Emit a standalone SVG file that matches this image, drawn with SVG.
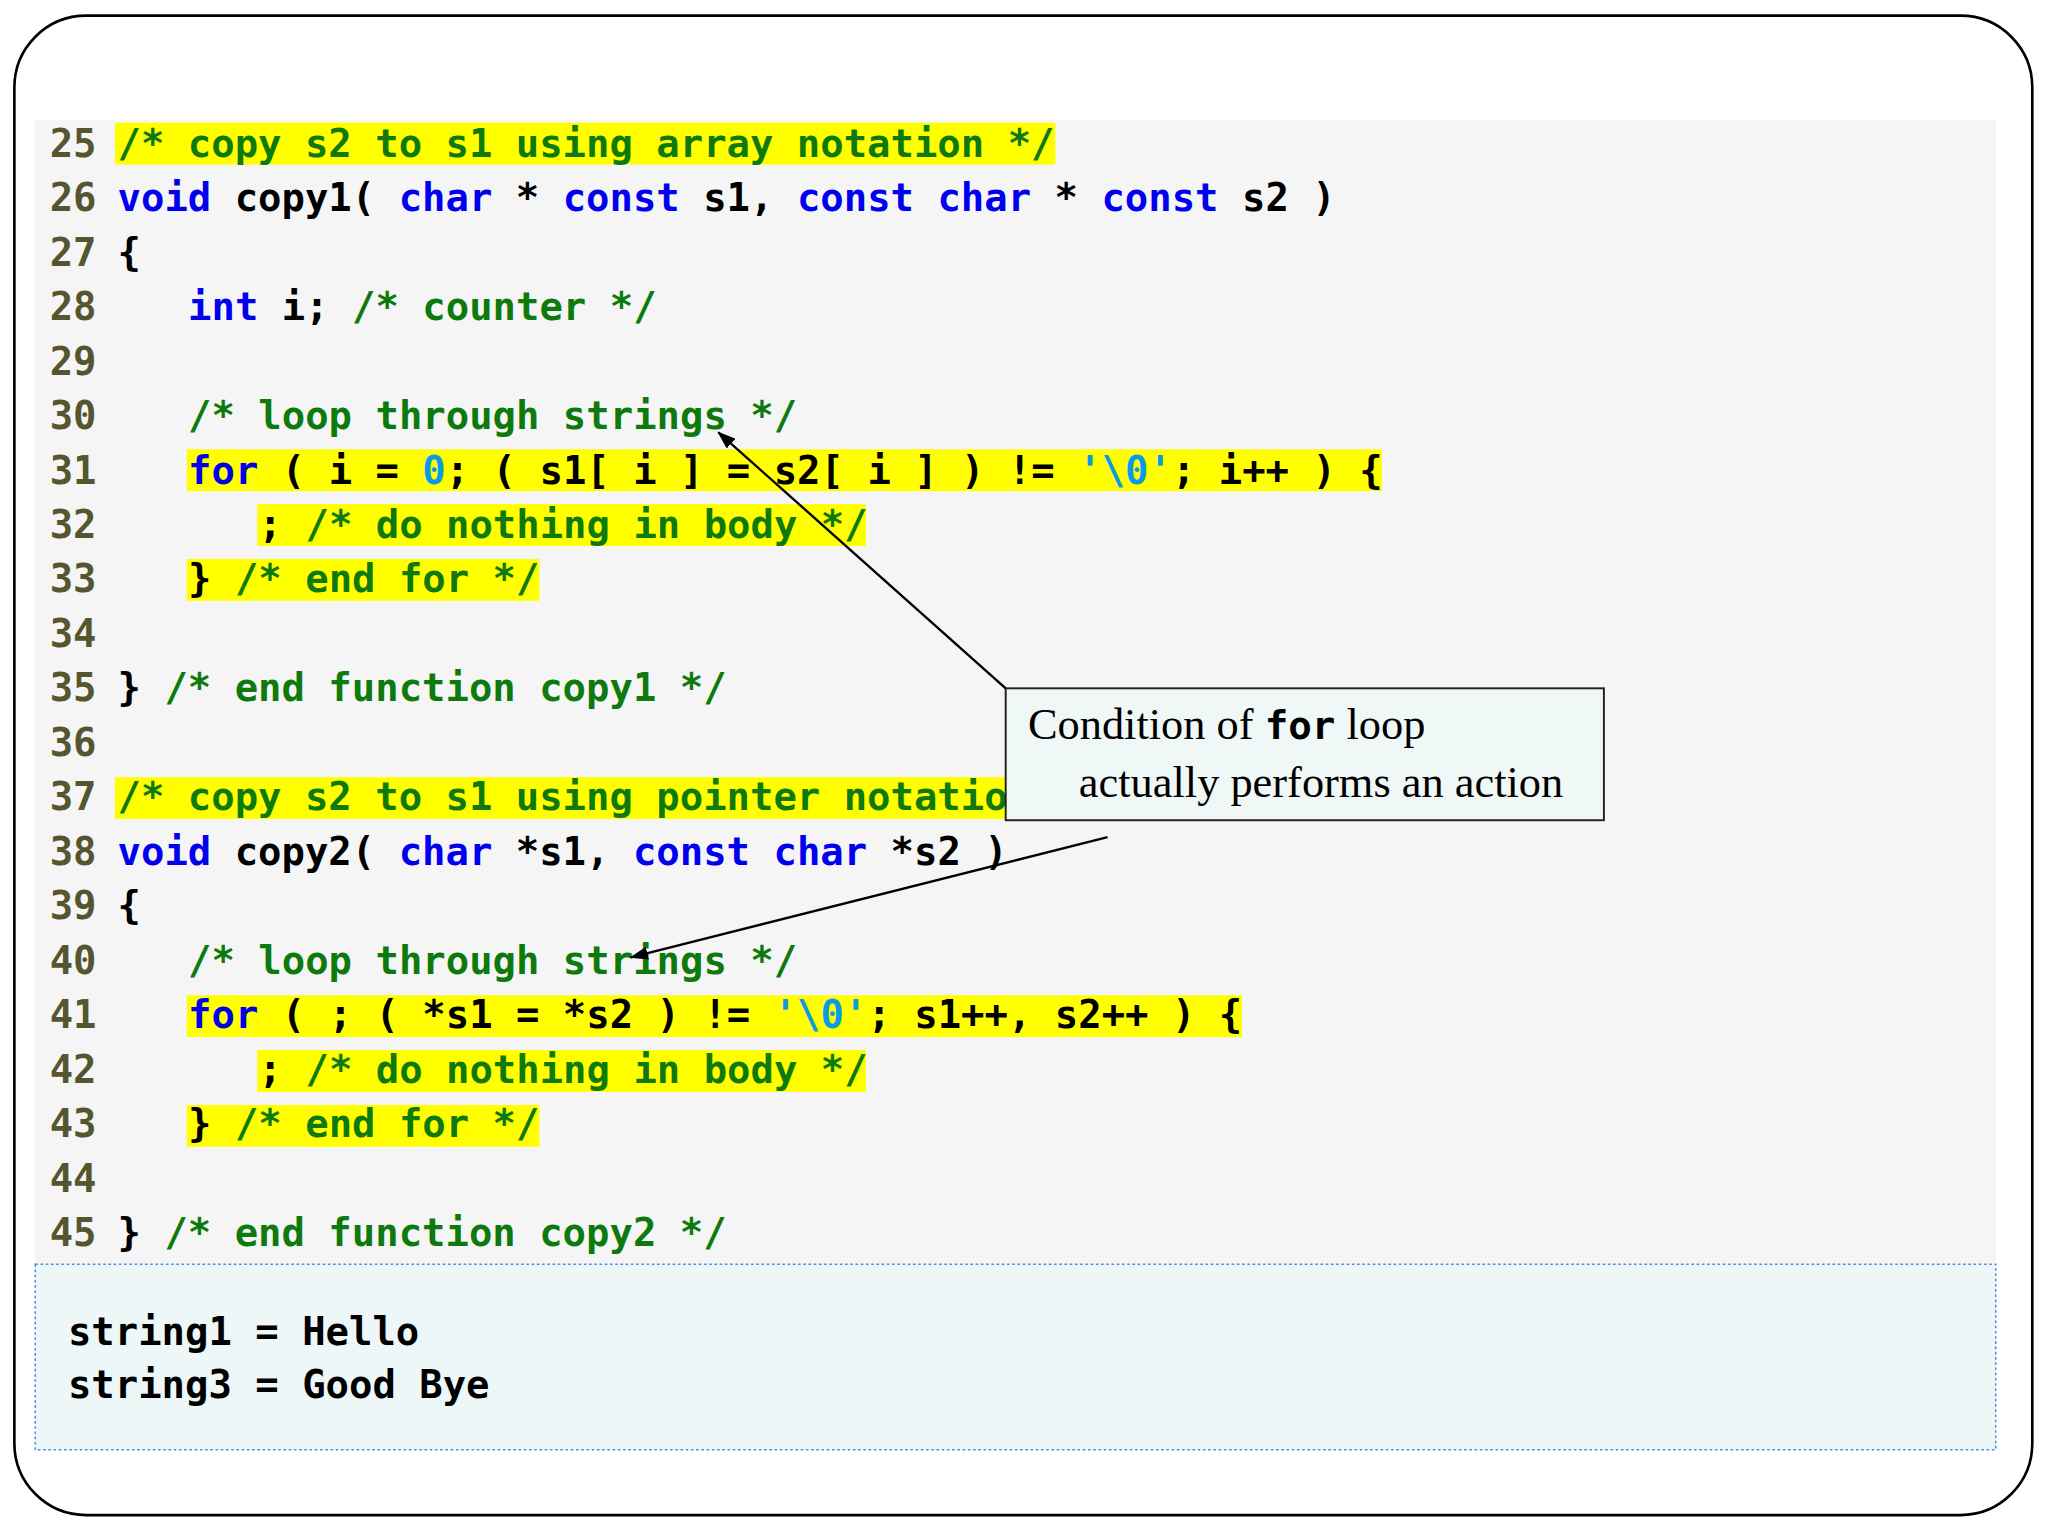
<svg xmlns="http://www.w3.org/2000/svg" width="2048" height="1536" viewBox="0 0 2048 1536">
<style>
.c{font-family:"DejaVu Sans Mono","Liberation Mono",monospace;font-weight:bold;font-size:29.8px;fill:#000}
.n{fill:#55552f}
.k{fill:#0000ee}
.m{fill:#0e7a0e}
.l{fill:#0a9be8}
.h{fill:#ffff00}
.cap{font-family:"Liberation Serif",serif;font-size:34px;fill:#000}
</style>
<defs><marker id="a" markerWidth="14" markerHeight="10" refX="13" refY="5" orient="auto" markerUnits="userSpaceOnUse"><path d="M0,0 L14,5 L0,10 z" fill="#000"/></marker></defs>
<rect width="2048" height="1536" fill="#fff"/>
<g transform="scale(1.3061)">
<rect x="11" y="12" width="1545" height="1148" rx="55" fill="#fff" stroke="#000" stroke-width="2"/>
<rect x="27" y="92" width="1501" height="876" fill="#f5f5f5"/>
<rect x="27" y="968" width="1501" height="142" fill="#eef7f7" stroke="#4a8ee0" stroke-width="1.2" stroke-dasharray="2,2"/>
<g id="highlights">
<rect class="h" x="88" y="94" width="720" height="32"/>
<rect class="h" x="143" y="344" width="915" height="32"/>
<rect class="h" x="197" y="386" width="466" height="32"/>
<rect class="h" x="143" y="428" width="270" height="32"/>
<rect class="h" x="88" y="595" width="752" height="32"/>
<rect class="h" x="143" y="762" width="808" height="32"/>
<rect class="h" x="197" y="804" width="466" height="32"/>
<rect class="h" x="143" y="846" width="270" height="32"/>
</g>
<g id="linenumbers" class="c n">
<text x="38" y="120">25</text><text x="38" y="161.7">26</text><text x="38" y="203.4">27</text><text x="38" y="245.1">28</text><text x="38" y="286.8">29</text><text x="38" y="328.5">30</text><text x="38" y="370.2">31</text><text x="38" y="411.9">32</text><text x="38" y="453.6">33</text><text x="38" y="495.3">34</text><text x="38" y="537">35</text><text x="38" y="578.7">36</text><text x="38" y="620.4">37</text><text x="38" y="662.1">38</text><text x="38" y="703.8">39</text><text x="38" y="745.5">40</text><text x="38" y="787.2">41</text><text x="38" y="828.9">42</text><text x="38" y="870.6">43</text><text x="38" y="912.3">44</text><text x="38" y="954">45</text>
</g>
<g id="code" class="c">
<text x="90" y="120" class="m">/* copy s2 to s1 using array notation */</text>
<text x="90" y="161.7"><tspan class="k">void</tspan> copy1( <tspan class="k">char</tspan> * <tspan class="k">const</tspan> s1, <tspan class="k">const</tspan> <tspan class="k">char</tspan> * <tspan class="k">const</tspan> s2 )</text>
<text x="90" y="203.4">{</text>
<text x="144" y="245.1"><tspan class="k">int</tspan> i; <tspan class="m">/* counter */</tspan></text>
<text x="144" y="328.5" class="m">/* loop through strings */</text>
<text x="144" y="370.2"><tspan class="k">for</tspan> ( i = <tspan class="l">0</tspan>; ( s1[ i ] = s2[ i ] ) != <tspan class="l">'\0'</tspan>; i++ ) {</text>
<text x="198" y="411.9">; <tspan class="m">/* do nothing in body */</tspan></text>
<text x="144" y="453.6">} <tspan class="m">/* end for */</tspan></text>
<text x="90" y="537">} <tspan class="m">/* end function copy1 */</tspan></text>
<text x="90" y="620.4" class="m">/* copy s2 to s1 using pointer notation */</text>
<text x="90" y="662.1"><tspan class="k">void</tspan> copy2( <tspan class="k">char</tspan> *s1, <tspan class="k">const</tspan> <tspan class="k">char</tspan> *s2 )</text>
<text x="90" y="703.8">{</text>
<text x="144" y="745.5" class="m">/* loop through strings */</text>
<text x="144" y="787.2"><tspan class="k">for</tspan> ( ; ( *s1 = *s2 ) != <tspan class="l">'\0'</tspan>; s1++, s2++ ) {</text>
<text x="198" y="828.9">; <tspan class="m">/* do nothing in body */</tspan></text>
<text x="144" y="870.6">} <tspan class="m">/* end for */</tspan></text>
<text x="90" y="954">} <tspan class="m">/* end function copy2 */</tspan></text>
</g>
<g id="output" class="c">
<text x="52" y="1030">string1 = Hello</text>
<text x="52" y="1070">string3 = Good Bye</text>
</g>
<g id="callout">
<rect x="770" y="527" width="458" height="101" fill="#f0f7f7" stroke="#222" stroke-width="1.5"/>
<text class="cap" x="787" y="566">Condition of <tspan font-family="DejaVu Sans Mono,monospace" font-weight="bold" font-size="30">for</tspan> loop</text>
<text class="cap" x="826" y="610">actually performs an action</text>
</g>
<g id="connectors" stroke="#000" stroke-width="1.8" fill="none">
<line x1="770" y1="527" x2="550" y2="331" marker-end="url(#a)"/>
<line x1="848" y1="641" x2="483" y2="733" marker-end="url(#a)"/>
</g>
</g>
</svg>
